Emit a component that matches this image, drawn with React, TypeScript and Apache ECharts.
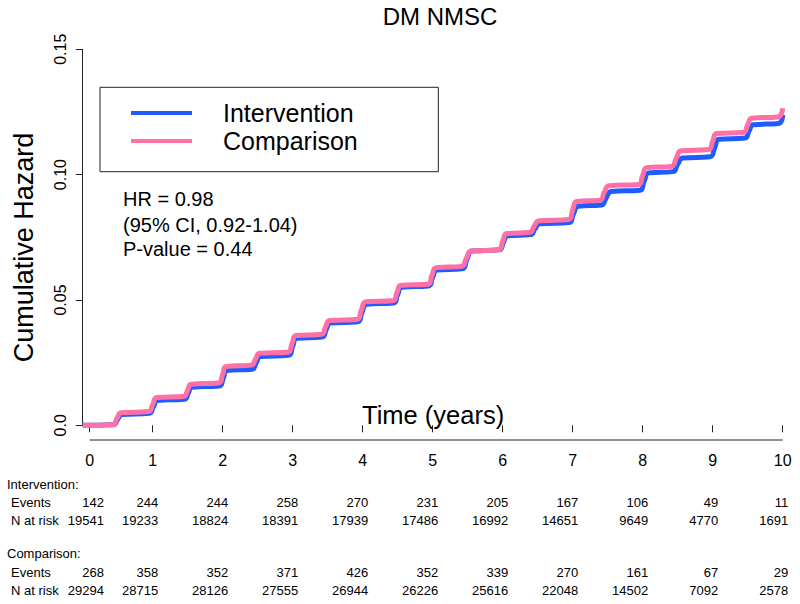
import React, { useEffect, useRef } from "react";
import * as echarts from "echarts";

// ---------- data ----------
const seriesNames = ["Intervention", "Comparison"];

const interventionTime = [0, 0.44, 0.5, 0.56, 0.95, 1.01, 1.07, 1.45, 1.51, 1.56, 1.95, 2.01, 2.06, 2.42, 2.48, 2.54, 2.94, 3.0, 3.06, 3.42, 3.48, 3.54, 3.93, 3.99, 4.06, 4.44, 4.5, 4.56, 4.94, 5.0, 5.06, 5.42, 5.49, 5.56, 5.95, 6.01, 6.07, 6.4, 6.46, 6.53, 6.95, 7.01, 7.08, 7.41, 7.48, 7.55, 7.96, 8.02, 8.09, 8.43, 8.5, 8.57, 8.96, 9.03, 9.09, 9.46, 9.52, 9.58, 9.94, 10.0];
const interventionHazard = [0, 0.0002, 0.0024, 0.0043, 0.0048, 0.0073, 0.0099, 0.0104, 0.0129, 0.0152, 0.0157, 0.0189, 0.0219, 0.0224, 0.025, 0.0274, 0.0279, 0.0315, 0.0347, 0.0352, 0.0382, 0.0408, 0.0413, 0.045, 0.0483, 0.0488, 0.0522, 0.0551, 0.0556, 0.059, 0.0619, 0.0624, 0.0662, 0.0695, 0.07, 0.0729, 0.0756, 0.0761, 0.0784, 0.0804, 0.0809, 0.0843, 0.0874, 0.0879, 0.0908, 0.0933, 0.0938, 0.0973, 0.1007, 0.1012, 0.1041, 0.1066, 0.1071, 0.1108, 0.1141, 0.1146, 0.1175, 0.1199, 0.1204, 0.1238];

const comparisonTime = [0, 0.43, 0.49, 0.55, 0.94, 1.0, 1.06, 1.44, 1.5, 1.55, 1.94, 2.0, 2.05, 2.41, 2.47, 2.53, 2.93, 2.99, 3.05, 3.41, 3.47, 3.53, 3.92, 3.98, 4.05, 4.43, 4.49, 4.55, 4.93, 4.99, 5.05, 5.41, 5.48, 5.55, 5.94, 6.0, 6.06, 6.39, 6.45, 6.52, 6.94, 7.0, 7.06, 7.39, 7.45, 7.52, 7.94, 8.0, 8.06, 8.41, 8.48, 8.55, 8.94, 9.0, 9.06, 9.44, 9.5, 9.56, 9.93, 10.0];
const comparisonHazard = [0, 0.0002, 0.0028, 0.005, 0.0055, 0.0083, 0.0111, 0.0115, 0.0141, 0.0164, 0.0169, 0.0204, 0.0235, 0.024, 0.0265, 0.0287, 0.0291, 0.0326, 0.0358, 0.0363, 0.0393, 0.0418, 0.0422, 0.0459, 0.0493, 0.0497, 0.053, 0.0559, 0.0563, 0.0598, 0.0629, 0.0634, 0.0666, 0.0695, 0.07, 0.0734, 0.0765, 0.077, 0.0795, 0.0816, 0.0821, 0.086, 0.0893, 0.0898, 0.0929, 0.0956, 0.0961, 0.0997, 0.1028, 0.1033, 0.1066, 0.1095, 0.11, 0.1134, 0.1164, 0.1169, 0.1199, 0.1225, 0.123, 0.1265];

const xTickPositions = [0.1, 1, 2, 3, 4, 5, 6, 7, 8, 9, 10];
const xTickLabels = ["0", "1", "2", "3", "4", "5", "6", "7", "8", "9", "10"];
const yTickValues = [0, 0.05, 0.1, 0.15];
const yTickLabels = ["0.0", "0.05", "0.10", "0.15"];

const interventionEvents = [142, 244, 244, 258, 270, 231, 205, 167, 106, 49, 11];
const interventionAtRisk = [19541, 19233, 18824, 18391, 17939, 17486, 16992, 14651, 9649, 4770, 1691];
const comparisonEvents = [268, 358, 352, 371, 426, 352, 339, 270, 161, 67, 29];
const comparisonAtRisk = [29294, 28715, 28126, 27555, 26944, 26226, 25616, 22048, 14502, 7092, 2578];

const statLines = ["HR = 0.98", "(95% CI, 0.92-1.04)", "P-value = 0.44"];

// ---------- styles ----------
const FONT = "'Liberation Sans', Arial, Helvetica, sans-serif";
const BLUE = "#1f5cff";
const PINK = "#ff70a6";
const AXIS = "#222";

function zip(t: number[], v: number[]) {
  return t.map((x, i) => [x, v[i]]);
}

export default function App() {
  const ref = useRef<HTMLDivElement>(null);

  useEffect(() => {
    if (!ref.current) return;
    const chart = echarts.init(ref.current, null, { renderer: "svg" });

    chart.setOption({
      animation: false,
      backgroundColor: "#fff",
      textStyle: { fontFamily: FONT },
      title: {
        text: "DM NMSC",
        left: 440,
        top: 4,
        padding: 0,
        textAlign: "center",
        textStyle: { fontSize: 24, fontWeight: "normal", color: "#000", fontFamily: FONT },
      },
      grid: { left: 82.7, top: 49.3, width: 700, height: 376, containLabel: false, outerBoundsMode: "none" },
      legend: {
        data: seriesNames,
        orient: "vertical",
        left: 131,
        top: 99,
        padding: 0,
        itemGap: 0,
        icon: "rect",
        itemWidth: 61,
        itemHeight: 4,
        selectedMode: false,
        textStyle: { fontSize: 25, color: "#000", fontFamily: FONT, lineHeight: 20, padding: [8, 0, 0, 26] },
      },
      xAxis: {
        type: "value",
        min: 0,
        max: 10,
        offset: 15,
        axisLine: { show: false },
        axisTick: { show: true, length: 7, customValues: xTickPositions, lineStyle: { color: AXIS } },
        axisLabel: {
          customValues: xTickPositions,
          fontSize: 16,
          margin: 12,
          color: "#000",
          fontFamily: FONT,
          formatter: (v: number) => {
            const i = xTickPositions.findIndex((p) => Math.abs(p - v) < 1e-6);
            return i >= 0 ? xTickLabels[i] : "";
          },
        },
        splitLine: { show: false },
      },
      yAxis: {
        type: "value",
        min: 0,
        max: 0.15,
        interval: 0.05,
        axisLine: { show: true, lineStyle: { color: AXIS } },
        axisTick: { show: true, length: 7, lineStyle: { color: AXIS } },
        axisLabel: {
          rotate: 90,
          fontSize: 16,
          margin: 14,
          color: "#000",
          fontFamily: FONT,
          formatter: (v: number) => {
            const i = yTickValues.findIndex((p) => Math.abs(p - v) < 1e-6);
            return i >= 0 ? yTickLabels[i] : "";
          },
        },
        splitLine: { show: false },
      },
      series: [
        {
          name: seriesNames[0],
          type: "line",
          data: zip(interventionTime, interventionHazard),
          showSymbol: false,
          smooth: 0.5,
          lineStyle: { color: BLUE, width: 5 },
          itemStyle: { color: BLUE },
          z: 2,
        },
        {
          name: seriesNames[1],
          type: "line",
          data: zip(comparisonTime, comparisonHazard),
          showSymbol: false,
          smooth: 0.5,
          lineStyle: { color: PINK, width: 5 },
          itemStyle: { color: PINK },
          z: 3,
        },
      ],
    });

    const px = (t: number) => chart.convertToPixel({ xAxisIndex: 0 }, t) as number;
    const axisY = 440;
    const graphics: any[] = [];

    // x axis line spanning the first to last tick
    graphics.push({
      type: "line",
      shape: { x1: px(xTickPositions[0]), y1: axisY, x2: px(xTickPositions[xTickPositions.length - 1]), y2: axisY },
      style: { stroke: AXIS, lineWidth: 1 },
    });

    // legend box
    graphics.push({
      type: "rect",
      shape: { x: 100, y: 87.3, width: 338.3, height: 84.4 },
      style: { fill: "none", stroke: AXIS, lineWidth: 1 },
      z: 1,
    });

    // y axis title
    graphics.push({
      type: "text",
      x: 24,
      y: 247.5,
      rotation: Math.PI / 2,
      style: { text: "Cumulative Hazard", fontSize: 27, fontFamily: FONT, fill: "#000", align: "center", verticalAlign: "middle" },
    });

    // x axis title inside plot
    graphics.push({
      type: "text",
      x: 362,
      y: 415,
      style: { text: "Time (years)", fontSize: 25.5, fontFamily: FONT, fill: "#000", align: "left", verticalAlign: "middle" },
    });

    // stats text
    const statY = [199, 224.5, 249];
    statLines.forEach((s, i) => {
      graphics.push({
        type: "text",
        x: 123,
        y: statY[i],
        style: { text: s, fontSize: 20, fontFamily: FONT, fill: "#000", align: "left", verticalAlign: "middle" },
      });
    });

    // risk table
    const tFont = 13;
    const label = (text: string, x: number, y: number, align = "left") => ({
      type: "text",
      x,
      y,
      style: { text, fontSize: tFont, fontFamily: FONT, fill: "#000", align, verticalAlign: "middle" },
    });
    const rows: { y: number; values: number[] }[] = [
      { y: 502.7, values: interventionEvents },
      { y: 520.7, values: interventionAtRisk },
      { y: 572.7, values: comparisonEvents },
      { y: 590.7, values: comparisonAtRisk },
    ];
    graphics.push(label("Intervention:", 7, 484.7));
    graphics.push(label("Events", 11, 502.7));
    graphics.push(label("N at risk", 11, 520.7));
    graphics.push(label("Comparison:", 7, 553.7));
    graphics.push(label("Events", 11, 572.7));
    graphics.push(label("N at risk", 11, 590.7));
    rows.forEach((r) => {
      r.values.forEach((v, i) => {
        const xr = i === 0 ? px(xTickPositions[0]) + 14.3 : px(xTickPositions[i]) + 5.5;
        graphics.push(label(String(v), xr, r.y, "right"));
      });
    });

    chart.setOption({ graphic: graphics });

    return () => chart.dispose();
  }, []);

  return (
    <div
      ref={ref}
      style={{ position: "fixed", left: 0, top: 0, width: 800, height: 604, background: "#fff" }}
    />
  );
}
